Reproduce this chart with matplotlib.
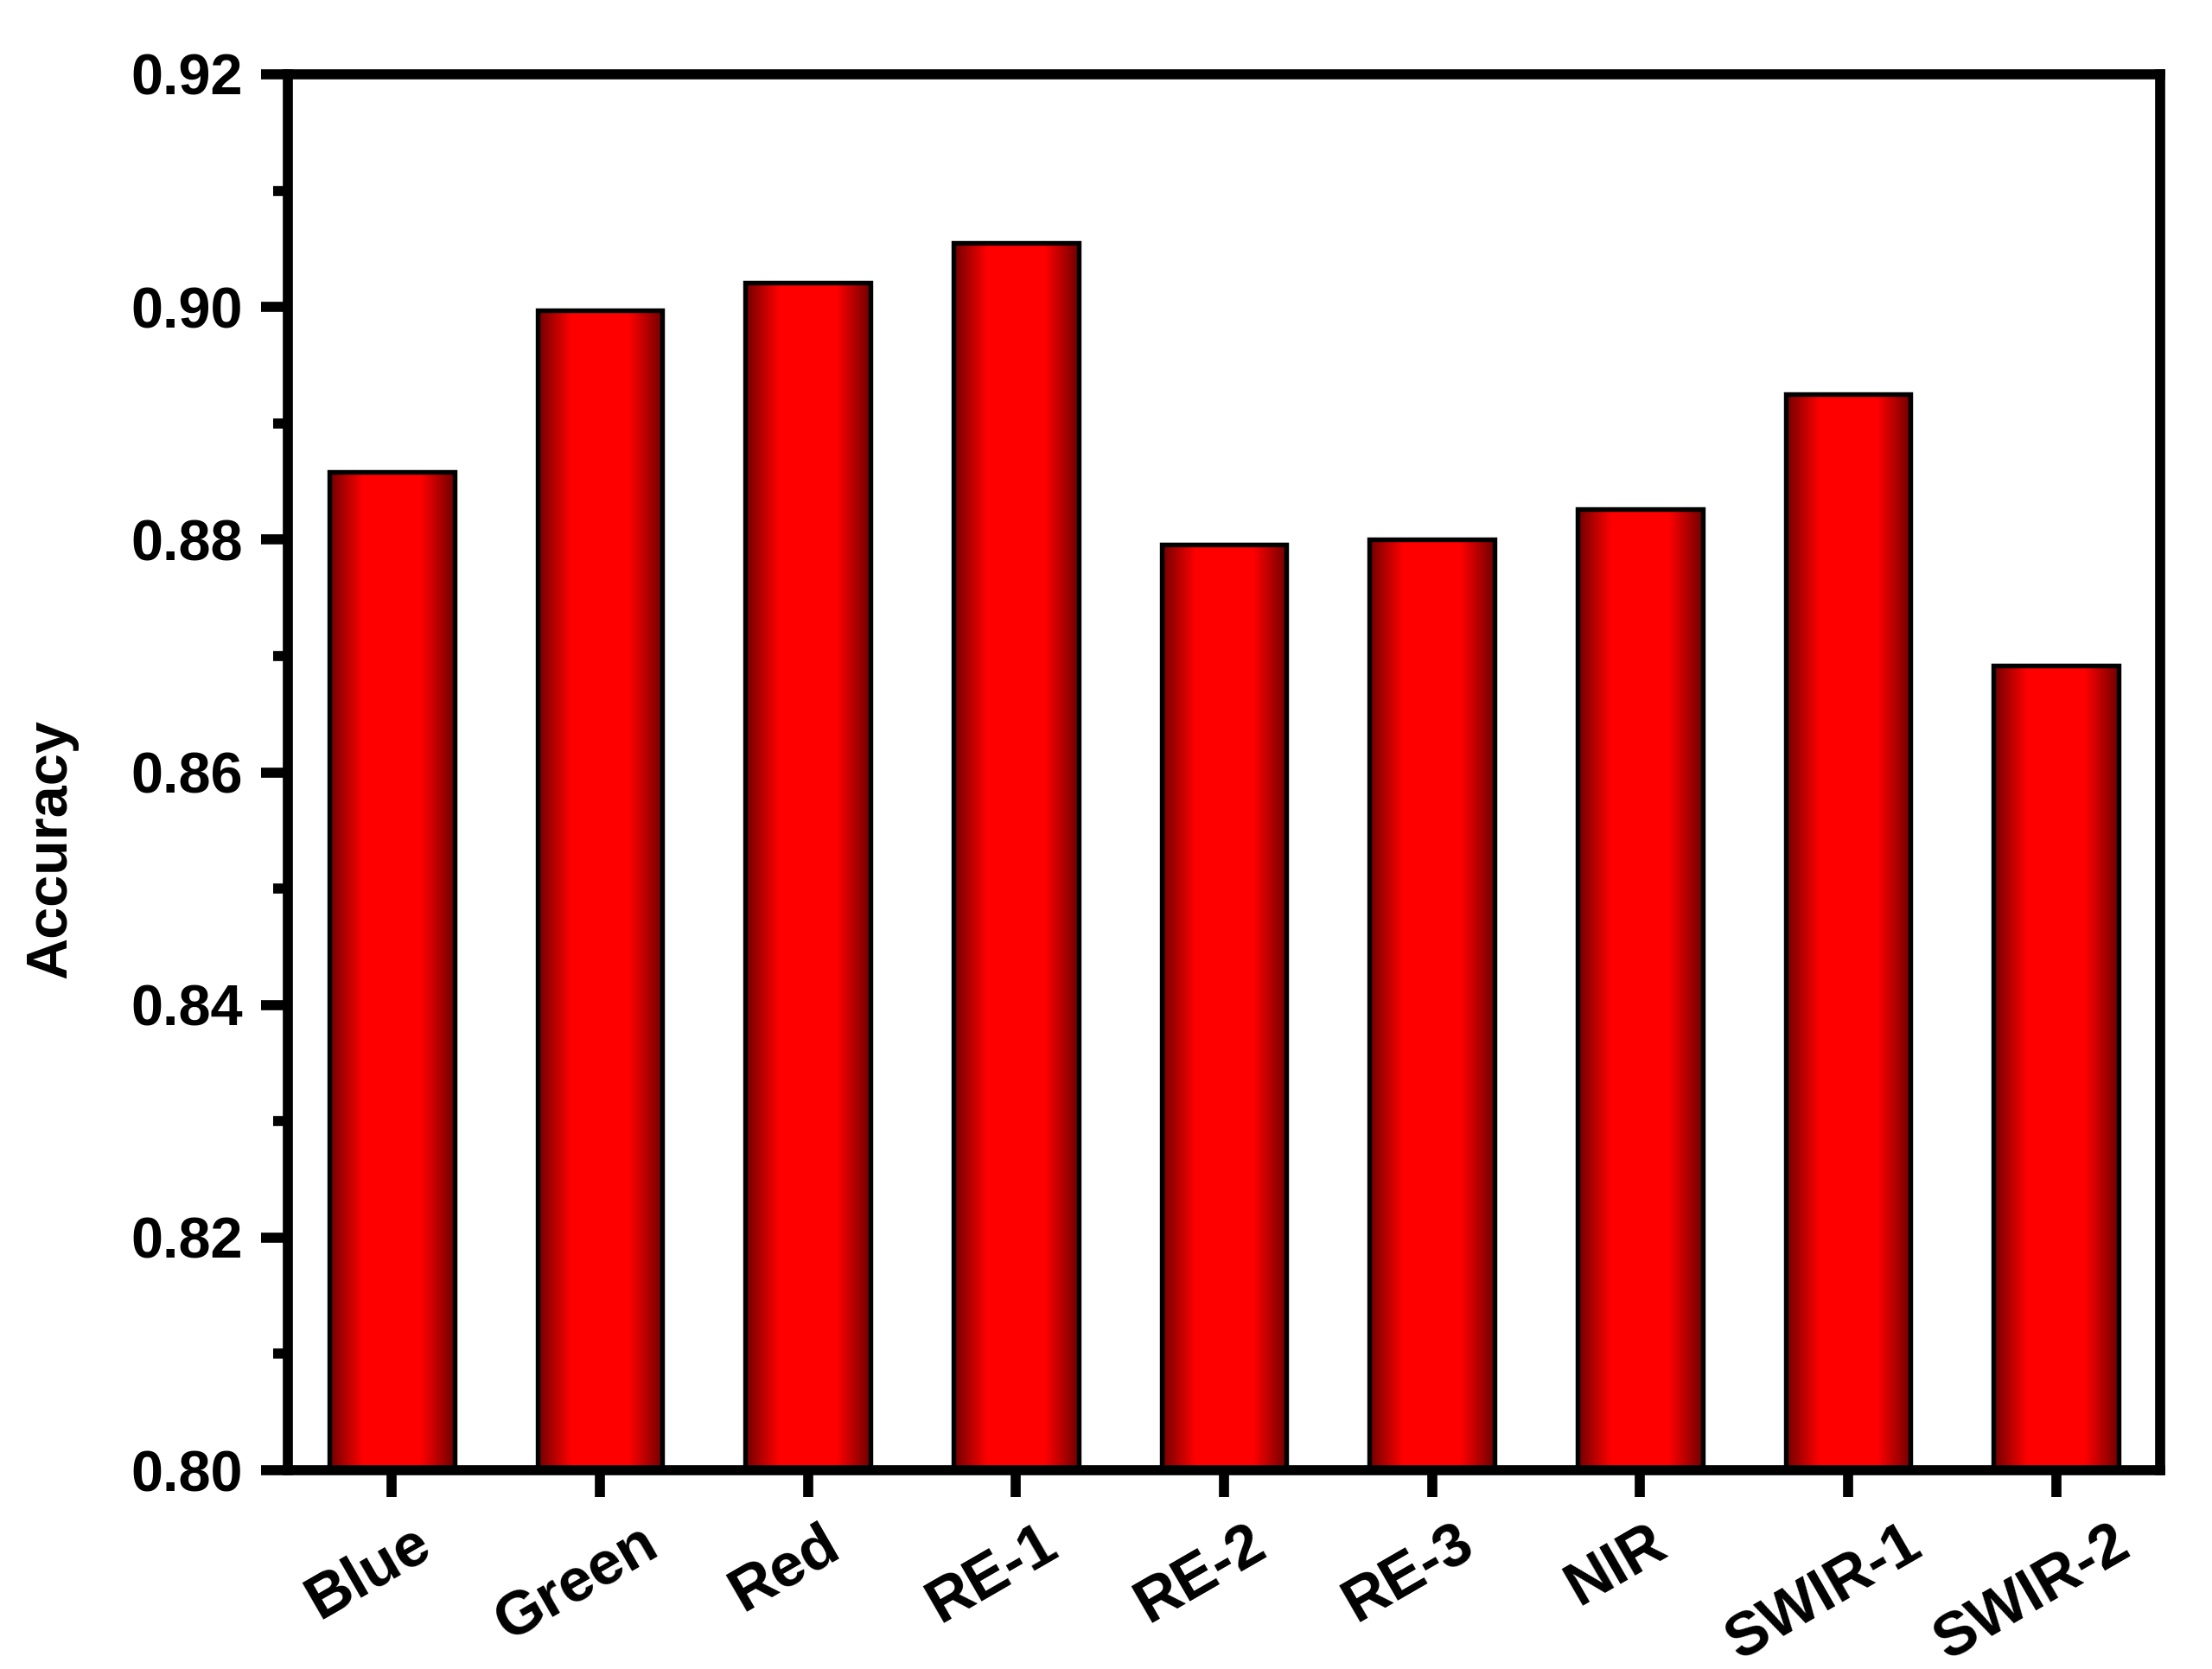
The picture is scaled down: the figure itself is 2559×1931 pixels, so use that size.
import numpy as np
import matplotlib
matplotlib.use("Agg")
from matplotlib import pyplot as plt
from matplotlib.colors import LinearSegmentedColormap
from matplotlib.ticker import MultipleLocator
from matplotlib.transforms import ScaledTranslation

bands = ["Blue", "Green", "Red", "RE-1", "RE-2", "RE-3", "NIR", "SWIR-1", "SWIR-2"]
accuracy = [0.8858, 0.8997, 0.9021, 0.9055, 0.8796, 0.8800, 0.8826, 0.8925, 0.8692]

plt.rcParams['font.family'] = ['Liberation Sans', 'DejaVu Sans']
plt.rcParams['font.weight'] = 'bold'

# dark edges, bright red middle, like a cylinder
cyl = LinearSegmentedColormap.from_list(
    "cyl", [(0.0, "#700000"), (0.27, "#ff0000"), (0.73, "#ff0000"), (1.0, "#700000")])
grad = np.linspace(0, 1, 256).reshape(1, -1)

fig = plt.figure(figsize=(2559/300, 1931/300), dpi=300)
ax = fig.add_axes([333/2559, 1-1701/1931, (2499-333)/2559, (1701-86)/1931])

x = np.arange(len(bands))
width = 0.6
bars = ax.bar(x, np.array(accuracy) - 0.80, width, bottom=0.80,
              facecolor='none', edgecolor='black', linewidth=1.3, zorder=3)
for b in bars:
    x0, y0 = b.get_x(), b.get_y()
    ax.imshow(grad, cmap=cyl, aspect='auto', interpolation='bilinear',
              extent=[x0, x0 + b.get_width(), y0, y0 + b.get_height()], zorder=2)

ax.set_xlim(-0.5, len(bands) - 0.5)
ax.set_ylim(0.80, 0.92)
ax.set_xticks(x)
ax.yaxis.set_major_locator(MultipleLocator(0.02))
ax.yaxis.set_minor_locator(MultipleLocator(0.01))
ax.set_yticklabels(["%.2f" % v for v in ax.get_yticks()])

for s in ax.spines.values():
    s.set_linewidth(2.8)
ax.tick_params(axis='both', which='major', direction='out', length=7.5, width=2.8, pad=5)
ax.tick_params(axis='y', which='major', labelsize=16)
ax.tick_params(axis='y', which='minor', direction='out', length=4.2, width=2.8)
ax.tick_params(axis='x', which='minor', bottom=False)
ax.tick_params(top=False, right=False)

# tick labels sit a bit left of their ticks
ax.set_xticklabels(bands, rotation=30, ha='center', va='top', fontsize=17)
shift = ScaledTranslation(-0.09, 0, fig.dpi_scale_trans)
for lab in ax.get_xticklabels():
    lab.set_transform(lab.get_transform() + shift)

ax.set_ylabel("Accuracy", fontsize=16, fontweight='bold', labelpad=15)
ax.yaxis.set_label_coords(-0.112, 0.445)

fig.savefig("out.png", dpi=300)
